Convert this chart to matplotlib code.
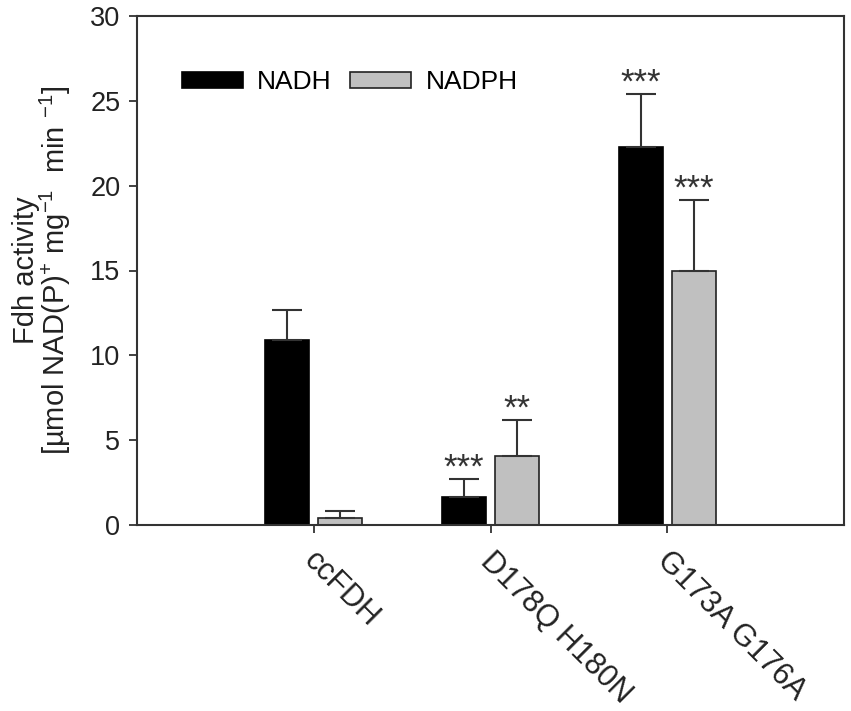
"""Fdh activity bar chart (NADH vs NADPH) with one-sided error bars."""

import numpy as np
import matplotlib.pyplot as plt
import matplotlib.transforms as mtransforms

plt.rcParams["font.family"] = ["Liberation Sans", "DejaVu Sans"]
plt.rcParams["mathtext.fontset"] = "custom"
plt.rcParams["mathtext.rm"] = "Liberation Sans"

# data
categories = ["ccFDH", "D178Q H180N", "G173A G176A"]
nadh = [10.9, 1.65, 22.3]
nadh_err = [1.8, 1.05, 3.1]
nadph = [0.43, 4.07, 14.95]
nadph_err = [0.4, 2.12, 4.2]
nadh_sig = ["", "***", "***"]
nadph_sig = ["", "**", "***"]

ink = "#333333"
x = np.arange(1, len(categories) + 1)
width = 0.25
offset = 0.15

fig = plt.figure(figsize=(8.51, 7.11), dpi=100)
ax = fig.add_axes([137 / 851, 1 - 525 / 711, (844 - 137) / 851, (525 - 16) / 711])

err_kw = dict(ecolor=ink, elinewidth=1.5, capsize=11, capthick=1.5)
ax.bar(x - offset, nadh, width, color="black", edgecolor="black", linewidth=1.2,
       yerr=[np.zeros(3), nadh_err], error_kw=err_kw, label="NADH")
ax.bar(x + offset, nadph, width, color="#c0c0c0", edgecolor="#222222", linewidth=1.2,
       yerr=[np.zeros(3), nadph_err], error_kw=err_kw, label="NADPH")

# significance stars just above the error caps
for xs, vals, errs, sig in [(x - offset, nadh, nadh_err, nadh_sig),
                            (x + offset, nadph, nadph_err, nadph_sig)]:
    for xi, v, e, s in zip(xs, vals, errs, sig):
        if s:
            ax.annotate(s, (xi, v + e), xytext=(0, 1), textcoords="offset points",
                        ha="center", va="baseline", fontsize=25, color=ink)

ax.set_xlim(0, 4)
ax.set_ylim(0, 30)
ax.set_yticks([0, 5, 10, 15, 20, 25, 30])
ax.set_xticks(x)
ax.set_xticklabels([])
# rotated category labels, placed by hand below each tick
base = mtransforms.blended_transform_factory(ax.transData, ax.transAxes)
shift = mtransforms.ScaledTranslation(5 / 100, -21 / 100, fig.dpi_scale_trans)
for xi, name in zip(x, categories):
    ax.text(xi, 0, name, transform=base + shift, rotation=-45, rotation_mode="anchor",
            ha="left", va="top", fontsize=22, color="#222222")

ax.tick_params(axis="y", direction="out", length=6, width=1.3, colors=ink, labelsize=19.5,
               labelcolor="#222222", pad=6)
ax.tick_params(axis="x", direction="out", length=6, width=1.3, colors=ink)
for sp in ax.spines.values():
    sp.set_color(ink)
    sp.set_linewidth(1.5)

ax.set_ylabel("Fdh activity\n[µmol NAD(P)$^{+}$ mg$^{-1}$  min $^{-1}$]", fontsize=21,
              color="#222222", linespacing=0.95, labelpad=12)

ax.legend(loc="upper left", bbox_to_anchor=(0.03, 0.94), ncol=2, frameon=False,
          fontsize=19, handlelength=2.3, handleheight=0.6, columnspacing=0.7,
          handletextpad=0.55)

fig.savefig("out.png", dpi=100, facecolor="white")
